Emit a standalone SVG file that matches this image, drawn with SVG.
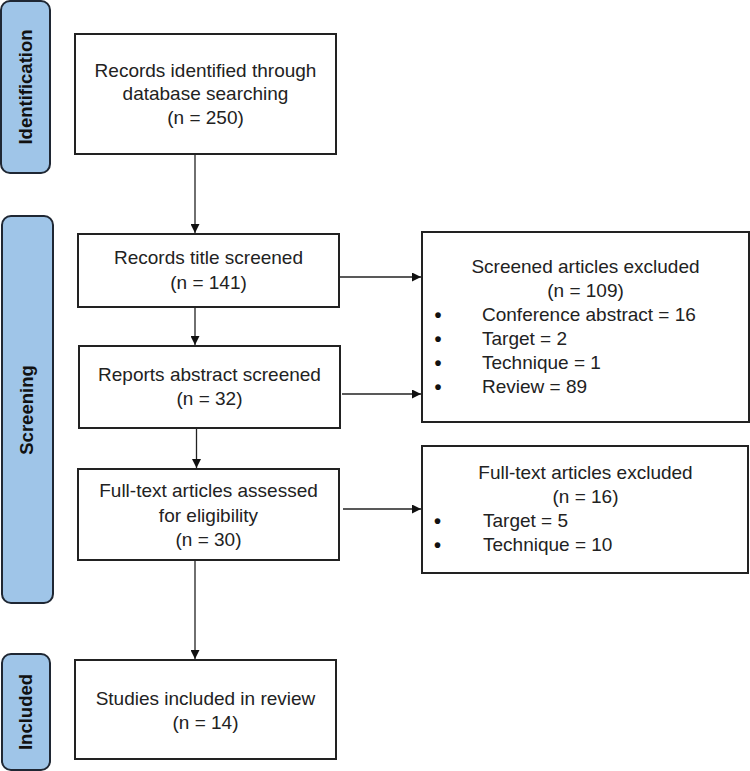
<svg xmlns="http://www.w3.org/2000/svg" width="750" height="771" viewBox="0 0 750 771">
<defs>
<marker id="ah" viewBox="0 0 10 10" refX="10" refY="5" markerWidth="9" markerHeight="9" markerUnits="userSpaceOnUse" orient="auto">
<path d="M0,0 L10,5 L0,10 z" fill="#111"/>
</marker>
<style>
.side{fill:#9fc5e8;stroke:#1f2733;stroke-width:2}
.box{fill:#fff;stroke:#222;stroke-width:2}
.t{font-family:"Liberation Sans",Arial,sans-serif;font-size:19px;fill:#222;text-anchor:middle}
.l{font-family:"Liberation Sans",Arial,sans-serif;font-size:19px;fill:#222}
.b{font-family:"Liberation Sans",Arial,sans-serif;font-size:20px;font-weight:bold;fill:#111}
.st{font-family:"Liberation Sans",Arial,sans-serif;font-size:18.5px;font-weight:bold;fill:#111;text-anchor:middle}
.c{stroke:#222;stroke-width:1.3;fill:none;marker-end:url(#ah)}
</style>
</defs>
<rect width="750" height="771" fill="#fff"/>
<g id="stage-identification">
<rect class="side" x="1" y="1" width="49" height="172" rx="9"/>
<text class="st" transform="translate(32,87) rotate(-90)">Identification</text>
</g>
<g id="stage-screening">
<rect class="side" x="2" y="216" width="51" height="387" rx="9"/>
<text class="st" transform="translate(33,410) rotate(-90)">Screening</text>
</g>
<g id="stage-included">
<rect class="side" x="2" y="654" width="48" height="116" rx="9"/>
<text class="st" transform="translate(32,712) rotate(-90)">Included</text>
</g>
<g id="n-identified">
<rect class="box" x="75" y="34" width="261" height="120"/>
<text class="t" x="205.5" y="77">Records identified through</text>
<text class="t" x="205.5" y="100">database searching</text>
<text class="t" x="205.5" y="124">(n = 250)</text>
</g>
<g id="n-title">
<rect class="box" x="78" y="234" width="261" height="73"/>
<text class="t" x="208.5" y="264">Records title screened</text>
<text class="t" x="208.5" y="289">(n = 141)</text>
</g>
<g id="n-abstract">
<rect class="box" x="79" y="346" width="261" height="82"/>
<text class="t" x="209.5" y="381">Reports abstract screened</text>
<text class="t" x="209.5" y="405">(n = 32)</text>
</g>
<g id="n-fulltext">
<rect class="box" x="78" y="469" width="261" height="91"/>
<text class="t" x="208.5" y="497">Full-text articles assessed</text>
<text class="t" x="208.5" y="522">for eligibility</text>
<text class="t" x="208.5" y="546">(n = 30)</text>
</g>
<g id="n-included">
<rect class="box" x="75" y="660" width="261" height="99"/>
<text class="t" x="205.5" y="705">Studies included in review</text>
<text class="t" x="205.5" y="729">(n = 14)</text>
</g>
<g id="n-excluded1">
<rect class="box" x="422" y="232" width="327" height="190"/>
<text class="t" x="585.5" y="273">Screened articles excluded</text>
<text class="t" x="585.5" y="297">(n = 109)</text>
<text class="b" x="434.5" y="321.5">•</text><text class="l" x="482" y="321">Conference abstract = 16</text>
<text class="b" x="434.5" y="345.5">•</text><text class="l" x="482" y="345">Target = 2</text>
<text class="b" x="434.5" y="369.5">•</text><text class="l" x="482" y="369">Technique = 1</text>
<text class="b" x="434.5" y="393.5">•</text><text class="l" x="482" y="393">Review = 89</text>
</g>
<g id="n-excluded2">
<rect class="box" x="422" y="446" width="326" height="127"/>
<text class="t" x="585.5" y="479">Full-text articles excluded</text>
<text class="t" x="585.5" y="503">(n = 16)</text>
<text class="b" x="434" y="527.5">•</text><text class="l" x="483" y="527">Target = 5</text>
<text class="b" x="434" y="551.5">•</text><text class="l" x="483" y="551">Technique = 10</text>
</g>
<g id="connectors">
<line class="c" x1="195" y1="155" x2="195" y2="233"/>
<line class="c" x1="195" y1="308" x2="195" y2="345"/>
<line class="c" x1="196.5" y1="429" x2="196.5" y2="468"/>
<line class="c" x1="195" y1="561" x2="195" y2="659"/>
<line class="c" x1="340" y1="277" x2="421" y2="277"/>
<line class="c" x1="342" y1="394" x2="421" y2="394"/>
<line class="c" x1="343" y1="509" x2="421" y2="509"/>
</g>
</svg>
